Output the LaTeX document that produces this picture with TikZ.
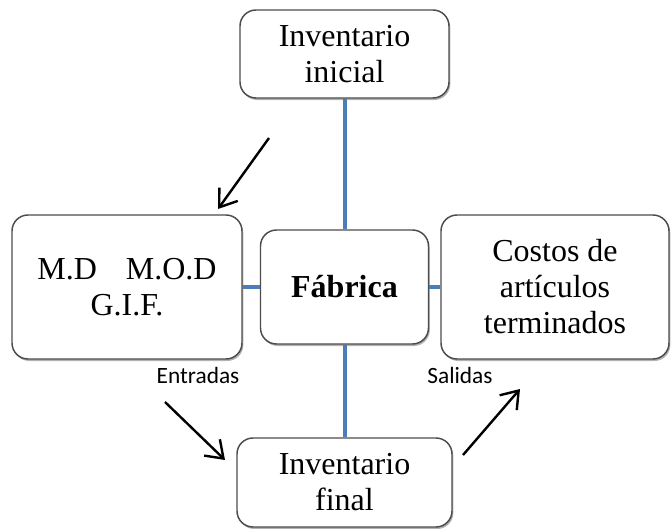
\documentclass[tikz,border=0pt]{standalone}
\usepackage{fontspec}
\setmainfont{Liberation Serif}
\newfontfamily\labelfont{Carlito}
\usetikzlibrary{arrows.meta,shadows}
\definecolor{linkblue}{RGB}{74,126,187}

\begin{document}
\begin{tikzpicture}[x=0.75pt,y=-0.75pt,
    caja/.style={draw=black!70,line width=1.1pt,rounded corners=12pt,fill=white,
      align=center,inner sep=2pt,font=\fontsize{24}{27}\selectfont,
      drop shadow={shadow xshift=1pt,shadow yshift=-1.5pt,opacity=0.3,fill=black}},
    enlace/.style={draw=linkblue,line width=3pt},
    flecha/.style={-{Straight Barb[length=12pt,width=17pt]},line width=1.8pt},
    etiqueta/.style={font=\labelfont\fontsize{17.5}{20}\selectfont}]
  \useasboundingbox (0,0) rectangle (672,529);

  \node[caja,minimum width=156.75pt,minimum height=66pt] (ini) at (344.5,54) {Inventario\\inicial};
  \node[caja,minimum width=172.5pt,minimum height=108pt] (mat) at (127,287) {M.D\hspace{0.9em}M.O.D\\G.I.F.};
  \node[caja,minimum width=126pt,minimum height=85.5pt,font=\fontsize{24}{27}\selectfont\bfseries] (fab) at (344.5,287) {Fábrica};
  \node[caja,minimum width=171pt,minimum height=108pt] (cost) at (555,287) {Costos de\\artículos\\terminados};
  \node[caja,minimum width=161.25pt,minimum height=66.75pt] (fin) at (344.5,482.5) {Inventario\\final};

  \draw[enlace] (ini) -- (fab);
  \draw[enlace] (mat) -- (fab);
  \draw[enlace] (fab) -- (cost);
  \draw[enlace] (fab) -- (fin);

  \coordinate (a1) at (269,138);
  \coordinate (a2) at (218,209);
  \coordinate (e1) at (165,402);
  \coordinate (e2) at (225,460);
  \coordinate (s1) at (463,455);
  \coordinate (s2) at (520,389);
  \draw[flecha] (a1) -- (a2);
  \draw[flecha] (e1) -- (e2);
  \draw[flecha] (s1) -- (s2);

  \node[etiqueta] (ent) at (198,375) {Entradas};
  \node[etiqueta] (sal) at (460,375) {Salidas};
\end{tikzpicture}
\end{document}
